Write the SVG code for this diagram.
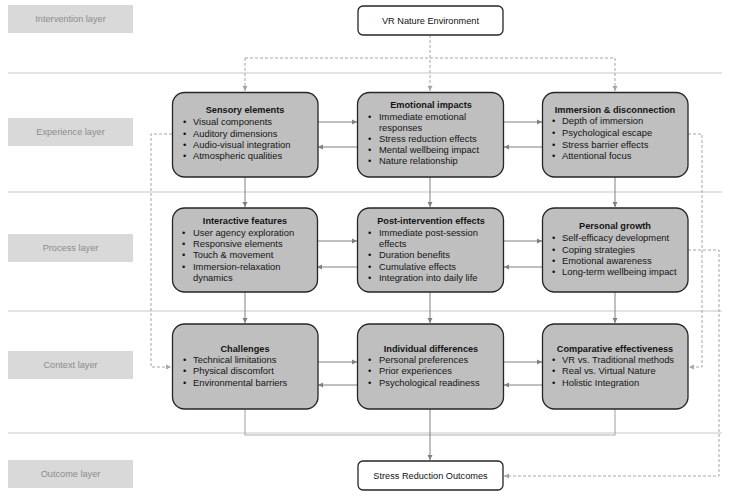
<svg xmlns="http://www.w3.org/2000/svg" width="729" height="499" viewBox="0 0 729 499">
<defs>
<style>
text{font-family:"Liberation Sans",Arial,sans-serif;}
.lbox{fill:#d9d9d9;}
.ltxt{font-size:9.2px;fill:#8c8c8c;text-anchor:middle;}
.sep{stroke:#c8c8c8;stroke-width:1.2;fill:none;}
.node{fill:#bfbfbf;stroke:#262626;stroke-width:1.3;}
.wnode{fill:#ffffff;stroke:#262626;stroke-width:1.3;}
.title{font-size:9.2px;font-weight:bold;fill:#141414;text-anchor:middle;}
.item{font-size:9.4px;fill:#141414;}
.wtxt{font-size:9.2px;fill:#111;text-anchor:middle;}
.solid{stroke:#808080;stroke-width:1;fill:none;}
.light{stroke:#b0b0b0;stroke-width:1.2;fill:none;}
.dash{stroke:#a6a6a6;stroke-width:1;fill:none;stroke-dasharray:3,2;}
</style>
<marker id="a" markerWidth="6" markerHeight="6" refX="5" refY="3" orient="auto" markerUnits="userSpaceOnUse">
<path d="M0,0.5 L5,3 L0,5.5 Z" fill="#808080"/>
</marker>
<marker id="ad" markerWidth="6" markerHeight="6" refX="5" refY="3" orient="auto" markerUnits="userSpaceOnUse">
<path d="M0,0.5 L5,3 L0,5.5 Z" fill="#a6a6a6"/>
</marker>
</defs>
<rect width="729" height="499" fill="#ffffff"/>

<g id="layers">
<rect class="lbox" x="8" y="5" width="125" height="28"/>
<text class="ltxt" x="70.5" y="22">Intervention layer</text>
<rect class="lbox" x="8" y="118" width="125" height="28"/>
<text class="ltxt" x="70.5" y="135">Experience layer</text>
<rect class="lbox" x="8" y="234" width="125" height="28"/>
<text class="ltxt" x="70.5" y="251">Process layer</text>
<rect class="lbox" x="8" y="351" width="125" height="28"/>
<text class="ltxt" x="70.5" y="368">Context layer</text>
<rect class="lbox" x="8" y="460" width="125" height="28"/>
<text class="ltxt" x="70.5" y="477">Outcome layer</text>
<line class="sep" x1="8" y1="73" x2="722" y2="73"/>
<line class="sep" x1="8" y1="192" x2="722" y2="192"/>
<line class="sep" x1="8" y1="311" x2="722" y2="311"/>
<line class="sep" x1="8" y1="433" x2="722" y2="433"/>
</g>

<g id="connectors">
<path class="dash" d="M430,35 V91" marker-end="url(#ad)"/>
<path class="dash" d="M245,58 H615"/>
<path class="dash" d="M245,58 V91" marker-end="url(#ad)"/>
<path class="dash" d="M615,58 V91" marker-end="url(#ad)"/>
<path class="solid" d="M318,122 H357" marker-end="url(#a)"/>
<path class="solid" d="M357,147 H318" marker-end="url(#a)"/>
<path class="solid" d="M504,122 H542" marker-end="url(#a)"/>
<path class="solid" d="M542,147 H504" marker-end="url(#a)"/>
<path class="solid" d="M245,177 V207" marker-end="url(#a)"/>
<path class="solid" d="M430,177 V207" marker-end="url(#a)"/>
<path class="solid" d="M615,177 V207" marker-end="url(#a)"/>
<path class="solid" d="M317,241 H357" marker-end="url(#a)"/>
<path class="solid" d="M357,267 H317" marker-end="url(#a)"/>
<path class="solid" d="M504,241 H542" marker-end="url(#a)"/>
<path class="solid" d="M542,267 H504" marker-end="url(#a)"/>
<path class="solid" d="M245,292 V323" marker-end="url(#a)"/>
<path class="solid" d="M430,292 V323" marker-end="url(#a)"/>
<path class="solid" d="M615,292 V323" marker-end="url(#a)"/>
<path class="solid" d="M318,362 H357" marker-end="url(#a)"/>
<path class="solid" d="M357,385 H318" marker-end="url(#a)"/>
<path class="solid" d="M504,362 H542" marker-end="url(#a)"/>
<path class="solid" d="M542,385 H504" marker-end="url(#a)"/>
<path class="light" d="M245,409 V435 H615 V409"/>
<path class="solid" d="M430,409 V460" marker-end="url(#a)"/>
<path class="dash" d="M172,134 H151 V367 H171" marker-end="url(#ad)"/>
<path class="dash" d="M688,134 H702 V367 H689" marker-end="url(#ad)"/>
<path class="dash" d="M688,250 H719 V476 H504" marker-end="url(#ad)"/>
</g>

<g id="vr-nature-environment">
<rect class="wnode" x="358" y="6" width="145" height="29" rx="5"/>
<text class="wtxt" x="430.5" y="23.5">VR Nature Environment</text>
</g>

<g id="sensory-elements">
<rect class="node" x="172.5" y="92.5" width="145.5" height="84.5" rx="12"/>
<text class="title" x="245" y="113">Sensory elements</text>
<text class="item" x="183" y="125">•</text><text class="item" x="193" y="125">Visual components</text>
<text class="item" x="183" y="137">•</text><text class="item" x="193" y="137">Auditory dimensions</text>
<text class="item" x="183" y="148">•</text><text class="item" x="193" y="148">Audio-visual integration</text>
<text class="item" x="183" y="159">•</text><text class="item" x="193" y="159">Atmospheric qualities</text>
</g>

<g id="emotional-impacts">
<rect class="node" x="357.5" y="92.5" width="146" height="84.5" rx="12"/>
<text class="title" x="431" y="108">Emotional impacts</text>
<text class="item" x="368" y="120">•</text><text class="item" x="379" y="120">Immediate emotional</text>
<text class="item" x="379" y="131">responses</text>
<text class="item" x="368" y="142">•</text><text class="item" x="379" y="142">Stress reduction effects</text>
<text class="item" x="368" y="153">•</text><text class="item" x="379" y="153">Mental wellbeing impact</text>
<text class="item" x="368" y="164">•</text><text class="item" x="379" y="164">Nature relationship</text>
</g>

<g id="immersion-disconnection">
<rect class="node" x="542.5" y="92.5" width="145.5" height="84.5" rx="12"/>
<text class="title" x="615" y="113">Immersion &amp; disconnection</text>
<text class="item" x="552" y="124">•</text><text class="item" x="562" y="124">Depth of immersion</text>
<text class="item" x="552" y="136">•</text><text class="item" x="562" y="136">Psychological escape</text>
<text class="item" x="552" y="148">•</text><text class="item" x="562" y="148">Stress barrier effects</text>
<text class="item" x="552" y="159">•</text><text class="item" x="562" y="159">Attentional focus</text>
</g>

<g id="interactive-features">
<rect class="node" x="172.5" y="208" width="145" height="84" rx="12"/>
<text class="title" x="245" y="224">Interactive features</text>
<text class="item" x="182" y="236">•</text><text class="item" x="193" y="236">User agency exploration</text>
<text class="item" x="182" y="247">•</text><text class="item" x="193" y="247">Responsive elements</text>
<text class="item" x="182" y="258">•</text><text class="item" x="193" y="258">Touch &amp; movement</text>
<text class="item" x="182" y="270">•</text><text class="item" x="193" y="270">Immersion-relaxation</text>
<text class="item" x="193" y="281">dynamics</text>
</g>

<g id="post-intervention-effects">
<rect class="node" x="357.5" y="208" width="146" height="84" rx="12"/>
<text class="title" x="431" y="224">Post-intervention effects</text>
<text class="item" x="368" y="236">•</text><text class="item" x="379" y="236">Immediate post-session</text>
<text class="item" x="379" y="247">effects</text>
<text class="item" x="368" y="258">•</text><text class="item" x="379" y="258">Duration benefits</text>
<text class="item" x="368" y="270">•</text><text class="item" x="379" y="270">Cumulative effects</text>
<text class="item" x="368" y="281">•</text><text class="item" x="379" y="281">Integration into daily life</text>
</g>

<g id="personal-growth">
<rect class="node" x="542.5" y="208" width="145.5" height="84" rx="12"/>
<text class="title" x="615" y="229">Personal growth</text>
<text class="item" x="552" y="241">•</text><text class="item" x="562" y="241">Self-efficacy development</text>
<text class="item" x="552" y="253">•</text><text class="item" x="562" y="253">Coping strategies</text>
<text class="item" x="552" y="264">•</text><text class="item" x="562" y="264">Emotional awareness</text>
<text class="item" x="552" y="275">•</text><text class="item" x="562" y="275">Long-term wellbeing impact</text>
</g>

<g id="challenges">
<rect class="node" x="172.5" y="324" width="145.5" height="85" rx="12"/>
<text class="title" x="245" y="352">Challenges</text>
<text class="item" x="183" y="363">•</text><text class="item" x="193" y="363">Technical limitations</text>
<text class="item" x="183" y="374">•</text><text class="item" x="193" y="374">Physical discomfort</text>
<text class="item" x="183" y="386">•</text><text class="item" x="193" y="386">Environmental barriers</text>
</g>

<g id="individual-differences">
<rect class="node" x="357.5" y="324" width="146" height="85" rx="12"/>
<text class="title" x="431" y="352">Individual differences</text>
<text class="item" x="368" y="363">•</text><text class="item" x="379" y="363">Personal preferences</text>
<text class="item" x="368" y="374">•</text><text class="item" x="379" y="374">Prior experiences</text>
<text class="item" x="368" y="386">•</text><text class="item" x="379" y="386">Psychological readiness</text>
</g>

<g id="comparative-effectiveness">
<rect class="node" x="542.5" y="324" width="145.5" height="85" rx="12"/>
<text class="title" x="615" y="352">Comparative effectiveness</text>
<text class="item" x="552" y="363">•</text><text class="item" x="562" y="363">VR vs. Traditional methods</text>
<text class="item" x="552" y="374">•</text><text class="item" x="562" y="374">Real vs. Virtual Nature</text>
<text class="item" x="552" y="386">•</text><text class="item" x="562" y="386">Holistic Integration</text>
</g>

<g id="stress-reduction-outcomes">
<rect class="wnode" x="358" y="461" width="145" height="29" rx="5"/>
<text class="wtxt" x="430.5" y="478.5">Stress Reduction Outcomes</text>
</g>
</svg>
